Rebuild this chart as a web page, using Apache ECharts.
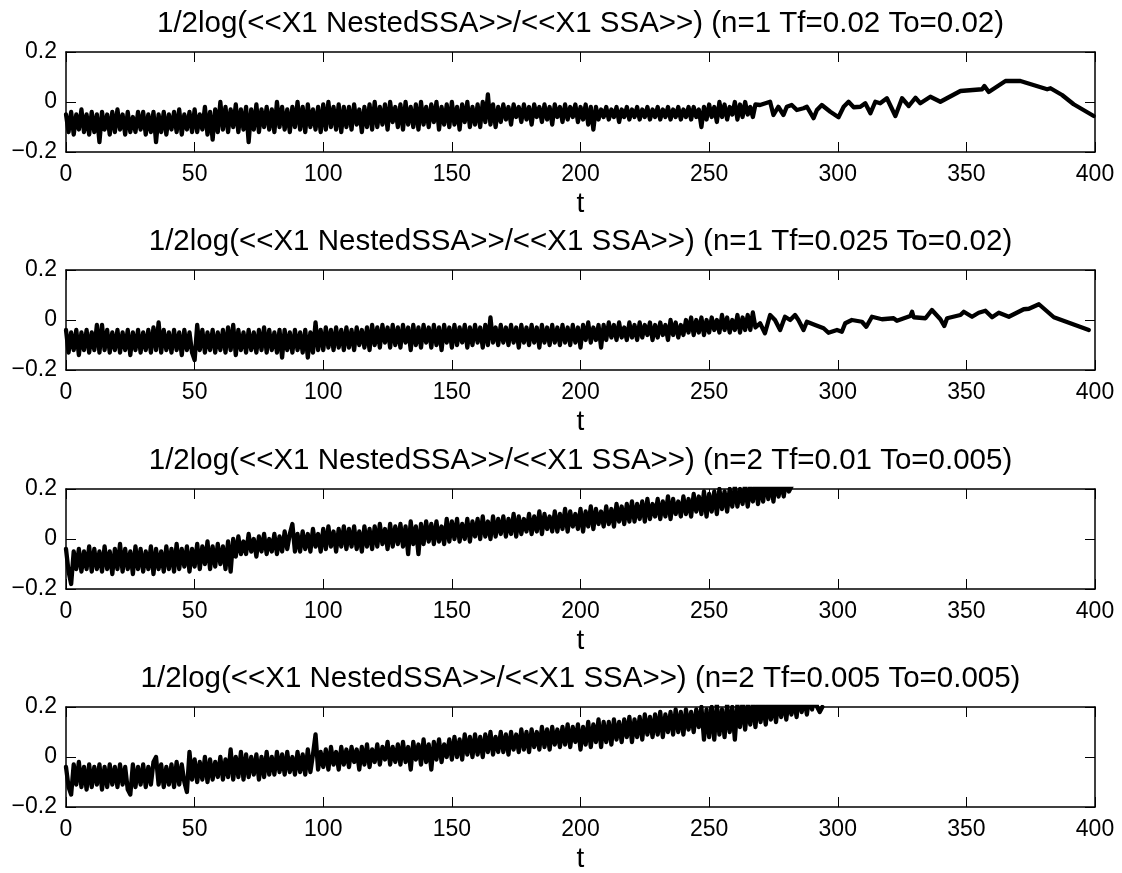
<!DOCTYPE html>
<html><head><meta charset="utf-8">
<script src="https://cdn.jsdelivr.net/npm/echarts@6/dist/echarts.min.js"></script>
<style>html,body{margin:0;padding:0;background:#fff}#c{width:1122px;height:873px}</style>
</head><body><div id="c"></div><script>
// ---------- DATA ----------
const titles = [
  "1/2log(<<X1 NestedSSA>>/<<X1 SSA>>) (n=1 Tf=0.02 To=0.02)",
  "1/2log(<<X1 NestedSSA>>/<<X1 SSA>>) (n=1 Tf=0.025 To=0.02)",
  "1/2log(<<X1 NestedSSA>>/<<X1 SSA>>) (n=2 Tf=0.01 To=0.005)",
  "1/2log(<<X1 NestedSSA>>/<<X1 SSA>>) (n=2 Tf=0.005 To=0.005)"
];
const xLabel = "t";
const xRange = [0, 400];
const xStep = 50;
const yRange = [-0.2, 0.2];
const yStep = 0.2;

// dense parts: one value per unit of t, starting at t = 0
const s1Dense = [
-.05,-.12,-.04,-.13,-.05,-.11,-.03,-.12,-.05,-.13,
-.04,-.12,-.05,-.16,-.04,-.11,-.05,-.13,-.04,-.12,
-.03,-.11,-.05,-.13,-.04,-.12,-.06,-.12,-.04,-.11,
-.04,-.13,-.05,-.12,-.04,-.16,-.05,-.12,-.04,-.13,
-.05,-.11,-.04,-.12,-.03,-.13,-.05,-.11,-.04,-.12,
-.03,-.12,-.05,-.11,-.02,-.13,-.04,-.15,-.03,-.12,
 .00,-.11,-.02,-.12,-.03,-.10,-.01,-.12,-.03,-.11,
-.02,-.16,-.03,-.11,-.01,-.12,-.03,-.10,-.02,-.11,
-.03,-.12, .00,-.10,-.02,-.11,-.03,-.12,-.02,-.10,
 .00,-.11,-.02,-.12,-.01,-.10,-.03,-.11,-.02,-.12,
-.01,-.11, .00,-.10,-.02,-.11,-.01,-.12,-.02,-.10,
-.02,-.11,-.01,-.09,-.03,-.12,-.02,-.10,-.01,-.11,
 .00,-.10,-.02,-.09,-.01,-.11, .00,-.08,-.02,-.10,
-.01,-.11, .00,-.09,-.02,-.10,-.01,-.11, .00,-.09,
-.02,-.10,-.01,-.08, .00,-.11,-.02,-.09,-.01,-.10,
 .00,-.09,-.02,-.11,-.01,-.08, .00,-.10,-.02,-.09,
-.01,-.10, .00,-.08, .03,-.09,-.01,-.10,-.02,-.08,
-.01,-.07,-.02,-.09,-.01,-.06,-.02,-.08,-.01,-.07,
-.02,-.09,-.01,-.06,-.02,-.08,-.01,-.07,-.02,-.09,
-.01,-.06,-.02,-.08,-.01,-.07,-.02,-.06,-.01,-.08,
-.02,-.07,-.01,-.09,-.02,-.11,-.02,-.07,-.03,-.06,
-.02,-.07,-.03,-.06,-.02,-.08,-.03,-.06,-.02,-.07,
-.03,-.06,-.02,-.07,-.03,-.06,-.02,-.07,-.03,-.06,
-.02,-.07,-.03,-.06,-.02,-.07,-.03,-.06,-.02,-.07,
-.03,-.06,-.02,-.07,-.02,-.06,-.03,-.10,-.02,-.07,
-.01,-.06,-.02,-.08, .00,-.06,-.01,-.07,-.02,-.05,
 .00,-.07,-.01,-.06, .00,-.05,-.02,-.06,-.01
];
const s1TailT = [269.8,273.7,275.0,276.9,278.9,280.2,282.1,284.1,286.7,288.0,290.6,291.9,293.8,297.1,300.3,302.3,304.2,306.2,308.8,310.7,312.7,314.6,316.5,319.1,322.4,325.0,327.6,330.2,332.1,336.0,339.9,347.7,356.1,357.0,358.7,365.2,371.0,381.4,382.7,387.2,391.7,399.5];
const s1TailV = [-0.012,0.001,-0.052,-0.019,-0.052,-0.019,-0.012,-0.032,-0.025,-0.019,-0.065,-0.032,-0.012,-0.039,-0.061,-0.019,0.001,-0.021,-0.019,-0.005,-0.045,0.001,-0.005,0.015,-0.056,0.015,-0.016,0.017,-0.005,0.021,0.001,0.044,0.051,0.064,0.040,0.084,0.084,0.051,0.055,0.028,-0.009,-0.056];

const s2Dense = [
-.04,-.13,-.05,-.12,-.04,-.14,-.05,-.12,-.04,-.13,
-.05,-.12,-.02,-.13,-.02,-.12,-.04,-.13,-.05,-.12,
-.04,-.13,-.05,-.12,-.04,-.14,-.05,-.12,-.04,-.13,
-.05,-.12,-.04,-.13,-.03,-.12,-.01,-.13,-.04,-.12,
-.05,-.13,-.04,-.12,-.05,-.14,-.04,-.12,-.05,-.13,
-.16,-.02,-.12,-.04,-.13,-.05,-.12,-.04,-.13,-.05,
-.12,-.04,-.13,-.03,-.12,-.02,-.14,-.04,-.12,-.05,
-.13,-.04,-.12,-.05,-.13,-.04,-.12,-.03,-.13,-.04,
-.12,-.05,-.13,-.04,-.15,-.04,-.12,-.05,-.13,-.04,
-.12,-.05,-.13,-.04,-.15,-.05,-.13,-.01,-.12,-.04,
-.12,-.03,-.11,-.04,-.12,-.03,-.11,-.04,-.12,-.03,
-.11,-.04,-.12,-.03,-.10,-.04,-.11,-.03,-.12,-.02,
-.10,-.03,-.11,-.02,-.09,-.03,-.11,-.02,-.10,-.03,
-.11,-.02,-.09,-.03,-.12,-.02,-.10,-.03,-.11,-.02,
-.09,-.03,-.11,-.02,-.10,-.03,-.12,-.02,-.09,-.03,
-.11,-.02,-.10,-.03,-.09,-.02,-.11,-.03,-.10,-.02,
-.09,-.03,-.11,-.02,-.10, .01,-.09,-.03,-.10,-.02,
-.09,-.03,-.10,-.02,-.09,-.03,-.11,-.02,-.09,-.03,
-.10,-.02,-.09,-.03,-.11,-.02,-.09,-.03,-.10,-.02,
-.09,-.03,-.10,-.02,-.09,-.03,-.10,-.02,-.09,-.03,
-.11,-.02,-.08,-.01,-.09,-.03,-.08,-.02,-.11,-.02,
-.08,-.01,-.07,-.02,-.08,-.01,-.07,-.03,-.08,-.01,
-.07,-.02,-.08,-.01,-.07,-.02,-.06,-.01,-.08,-.02,
-.07,-.01,-.06,-.02,-.08, .00,-.06,-.01,-.07,-.02,
-.06, .00,-.05, .01,-.06, .00,-.05, .01,-.06, .00,
-.05, .01,-.04, .00,-.05, .02,-.04, .01,-.05, .00,
-.04, .02,-.05, .01,-.04, .02,-.04, .03,-.03
];
const s2TailT = [269.8,271.7,273.7,275.6,277.6,279.5,281.5,283.4,284.7,286.7,288.0,291.2,294.5,296.4,299.7,301.6,302.9,305.5,309.4,311.1,313.3,317.2,321.7,323.0,328.2,328.9,329.5,334.1,336.6,339.9,341.4,342.5,347.7,349.0,352.2,354.8,357.4,360.0,362.6,366.5,372.3,374.3,378.2,384.0,397.6];
const s2TailV = [-0.013,-0.053,0.020,0.000,-0.040,0.013,0.000,0.020,0.000,-0.040,-0.007,-0.020,-0.033,-0.051,-0.040,-0.047,-0.013,0.000,-0.007,-0.027,0.013,0.003,0.007,-0.003,0.016,0.033,0.011,0.007,0.040,0.003,-0.024,0.007,0.020,0.033,0.013,0.029,0.037,0.011,0.029,0.013,0.043,0.045,0.063,0.011,-0.040];

const s3Dense = [
-.04,-.13,-.18,-.05,-.12,-.04,-.13,-.05,-.12,-.03,
-.13,-.04,-.12,-.05,-.13,-.03,-.12,-.05,-.14,-.04,
-.12,-.02,-.13,-.04,-.12,-.05,-.14,-.03,-.12,-.04,
-.13,-.05,-.12,-.03,-.14,-.04,-.12,-.05,-.13,-.03,
-.12,-.04,-.13,-.02,-.12,-.04,-.11,-.03,-.13,-.04,
-.11,-.02,-.12,-.03,-.10,-.01,-.12,-.03,-.11,-.02,
-.10,-.03,-.12,-.01,-.13, .00,-.07, .01,-.06,-.01,
-.06, .02,-.05, .00,-.07, .01,-.05, .02,-.06, .00,
-.05, .02,-.06, .01,-.05, .03,-.04, .02, .06,-.05,
 .02,-.05, .03,-.04, .02,-.05, .04,-.03, .02,-.05,
 .04,-.04, .05,-.03, .03,-.05, .04,-.03, .05,-.04,
 .04,-.03, .05,-.04, .03,-.05, .05,-.03, .04,-.04,
 .05,-.03, .06,-.02, .04,-.04, .06,-.03, .05,-.02,
 .06,-.03, .05,-.06, .07,-.02, .05,-.06, .06,-.02,
 .07,-.01, .06,-.02, .07,-.01, .05,-.02, .08,-.01,
 .07, .00, .08,-.01, .06, .00, .08,-.01, .07, .01,
 .08, .00, .09, .01, .07, .00, .09, .01, .08, .02,
 .09, .01, .08, .02, .10, .01, .09, .02, .08, .03,
 .10, .02, .09, .03, .11, .02, .10, .04, .09, .03,
 .11, .03, .10, .04, .12, .03, .11, .05, .10, .04,
 .12, .03, .11, .05, .13, .04, .12, .06, .11, .05,
 .13, .06, .12, .05, .14, .07, .13, .06, .14, .07,
 .15, .07, .14, .08, .15, .07, .16, .08, .14, .09,
 .16, .08, .15, .09, .17, .08, .16, .10, .15, .09,
 .17, .10, .16, .09, .18, .11, .17, .10, .19, .09,
 .18, .11, .19, .10, .20, .12, .19, .11, .20, .13,
 .21, .13, .20, .14, .22, .13, .21, .15, .23, .14,
 .22, .15, .24, .16, .23, .15, .24, .17, .23, .17,
 .24, .19, .21
];

const s4Dense = [
-.04,-.12,-.15,-.03,-.11,-.02,-.12,-.04,-.13,-.03,
-.12,-.04,-.11,-.03,-.13,-.04,-.12,-.03,-.11,-.04,
-.12,-.03,-.11,-.04,-.13,-.15,-.03,-.12,-.04,-.11,
-.03,-.12,-.04,-.11,-.02, .00,-.11,-.03,-.12,-.04,
-.11,-.03,-.12,-.02,-.11,-.03,-.10,-.14, .02,-.09,
-.01,-.10,-.02,-.09, .00,-.10,-.01,-.09,-.02,-.08,
 .00,-.09,-.01,-.08, .03,-.09, .00,-.08, .02,-.09,
 .01,-.08, .00,-.07, .01,-.09, .00,-.08, .02,-.07,
 .00,-.07, .02,-.06, .01,-.07, .02,-.06, .00,-.07,
 .02,-.06, .01,-.07, .03,-.06, .01, .09,-.05, .02,
-.04, .03,-.05, .04,-.03, .02,-.05, .04,-.03, .03,
-.04, .04,-.02, .03,-.05, .04,-.03, .05,-.04, .03,
-.02, .05,-.03, .04,-.01, .06,-.03, .04,-.02, .05,
-.03, .06,-.02, .04,-.05, .06,-.01, .05,-.03, .07,
-.02, .05,-.05, .06,-.01, .07,-.02, .05, .00, .07,
-.01, .08, .00, .07,-.01, .09, .01, .08, .00, .09,
 .01, .08, .00, .09, .02, .10, .01, .08, .02, .10,
 .02, .09, .01, .10, .03, .09, .02, .11, .03, .10,
 .02, .11, .04, .10, .03, .12, .04, .11, .03, .12,
 .05, .11, .04, .12, .05, .13, .04, .12, .06, .13,
 .03, .12, .05, .14, .04, .13, .06, .15, .04, .14,
 .06, .14, .05, .15, .07, .14, .06, .15, .08, .16,
 .06, .15, .08, .16, .07, .17, .09, .16, .08, .17,
 .09, .18, .08, .17, .10, .18, .09, .19, .10, .18,
 .09, .19, .11, .18, .10, .19, .12, .20, .07, .19,
 .08, .20, .07, .21, .09, .19, .08, .21, .10, .20,
 .07, .21, .12, .22, .11, .21, .13, .22, .12, .23,
 .14, .22, .13, .23, .15, .22, .14, .24, .16, .23,
 .15, .24, .17, .23, .16, .25, .18, .24, .17, .25,
 .19, .24, .20, .18, .20
];

// ---------- BUILD ----------
function pairs(dense, tailT, tailV) {
  const out = dense.map((v, i) => [i, v]);
  if (tailT) tailT.forEach((t, j) => out.push([t, tailV[j]]));
  return out;
}
const seriesData = [
  pairs(s1Dense, s1TailT, s1TailV),
  pairs(s2Dense, s2TailT, s2TailV),
  pairs(s3Dense),
  pairs(s4Dense)
];

const FONT = "'Liberation Sans', Arial, Helvetica, sans-serif";
const L = 66, R = 27, H = 100;
const tops = [52, 270, 489, 707];
const plotCenter = L + (1122 - L - R) / 2;

const grid = [], xAxis = [], yAxis = [], series = [], graphic = [];
const lineAx = { show: true, onZero: false, lineStyle: { color: '#000', width: 1.5 } };
const tickIn = { show: true, inside: true, length: 10, lineStyle: { color: '#000', width: 1 } };
const fmtY = v => (Math.abs(v) < 1e-9 ? '0' : String(+v.toFixed(1)).replace('-', '\u2212'));

tops.forEach((top, i) => {
  grid.push({ left: L, right: R, top: top, height: H, containLabel: false });
  xAxis.push({
    gridIndex: i, type: 'value', position: 'bottom', min: xRange[0], max: xRange[1], interval: xStep,
    axisLine: lineAx, axisTick: tickIn, splitLine: { show: false },
    axisLabel: { show: true, margin: 11, color: '#000', fontSize: 23, fontFamily: FONT }
  });
  xAxis.push({
    gridIndex: i, type: 'value', position: 'top', min: xRange[0], max: xRange[1], interval: xStep,
    axisLine: lineAx, axisTick: tickIn, splitLine: { show: false }, axisLabel: { show: false }
  });
  yAxis.push({
    gridIndex: i, type: 'value', position: 'left', min: yRange[0], max: yRange[1], interval: yStep,
    axisLine: lineAx, axisTick: tickIn, splitLine: { show: false },
    axisLabel: { show: true, margin: 9, color: '#000', fontSize: 23, fontFamily: FONT, formatter: fmtY }
  });
  yAxis.push({
    gridIndex: i, type: 'value', position: 'right', min: yRange[0], max: yRange[1], interval: yStep,
    axisLine: lineAx, axisTick: tickIn, splitLine: { show: false }, axisLabel: { show: false }
  });
  series.push({
    type: 'line', xAxisIndex: 2 * i, yAxisIndex: 2 * i, data: seriesData[i],
    showSymbol: false, symbol: 'none', clip: true, sampling: null,
    lineStyle: { color: '#000', width: 4.3, join: 'round', cap: 'round' },
    emphasis: { disabled: true }, silent: true
  });
  graphic.push({
    type: 'text', x: plotCenter, y: top - 28, silent: true,
    style: { text: titles[i], fill: '#000', font: "29.5px " + FONT,
      textAlign: 'center', textVerticalAlign: 'middle', align: 'center', verticalAlign: 'middle' }
  });
  graphic.push({
    type: 'text', x: plotCenter, y: top + H + 52, silent: true,
    style: { text: xLabel, fill: '#000', font: "28px " + FONT,
      textAlign: 'center', textVerticalAlign: 'middle', align: 'center', verticalAlign: 'middle' }
  });
});

const chart = echarts.init(document.getElementById('c'), null, { renderer: 'canvas' });
chart.setOption({
  backgroundColor: '#fff', animation: false,
  grid, xAxis, yAxis, series, graphic
});
</script></body></html>
